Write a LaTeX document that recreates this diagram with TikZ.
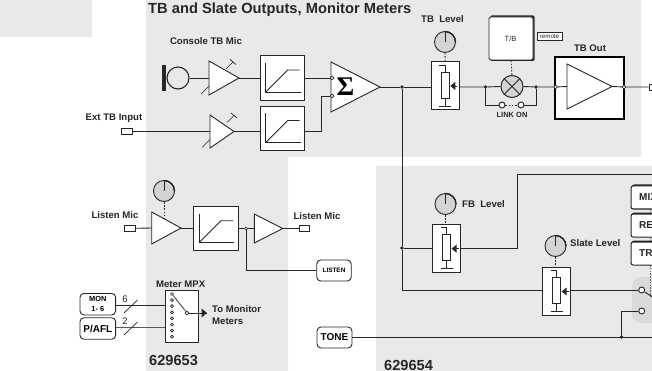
\documentclass[tikz,border=0pt]{standalone}
\usepackage{fontspec}
\setmainfont{Liberation Sans}
\newfontfamily\sigfont{Liberation Serif}
\usetikzlibrary{calc}
\definecolor{regiongrey}{HTML}{E9E9E9}
\definecolor{knobgrey}{HTML}{D4D4D4}
\definecolor{switchgrey}{HTML}{DADADA}
\definecolor{ink}{HTML}{262626}
\tikzset{
  wire/.style={draw=ink,line width=0.9pt},
  thin wire/.style={draw=ink,line width=0.7pt},
  region/.style={fill=regiongrey,draw=none},
  block/.style={draw=ink,line width=1pt,fill=white,inner sep=0pt,minimum width=44.5pt,minimum height=44.5pt},
  potbox/.style={draw=ink,line width=1pt,fill=white,inner sep=0pt,minimum width=27.5pt,minimum height=48pt},
  tag/.style={draw=ink,line width=0.9pt,fill=white,rounded corners=4pt,inner sep=0pt,font=\bfseries},
  jack/.style={draw=ink,line width=0.8pt,fill=white,inner sep=0pt,minimum width=10.5pt,minimum height=5.5pt},
  lbl/.style={font=\bfseries\fontsize{9.6}{11}\selectfont,text=ink,inner sep=0pt},
  bignum/.style={font=\bfseries\fontsize{14.6}{16}\selectfont,text=ink,inner sep=0pt},
  jdot/.style={circle,fill=ink,inner sep=0pt,minimum size=3.6pt},
  odot/.style={circle,draw=ink,line width=0.7pt,fill=white,inner sep=0pt,minimum size=3.6pt},
  bigodot/.style={circle,draw=ink,line width=0.9pt,fill=white,inner sep=0pt,minimum size=6pt},
  knob/.style={circle,draw=ink,line width=0.9pt,fill=knobgrey,inner sep=0pt,minimum size=21pt},
  dotlink/.style={draw=ink,line width=0.9pt,dash pattern=on 1.6pt off 1.6pt},
  softkey/.style={draw=ink,line width=1pt,fill=white,rounded corners=2pt},
}
% triangle amplifier: name, left x, top y, bottom y, apex x; defines name-in, name-out
\newcommand{\ampl}[5]{%
  \coordinate (#1-out) at (#5,{(#3+#4)/2});
  \coordinate (#1-in) at (#2,{(#3+#4)/2});
  \draw[wire,fill=white] (#2,#3) -- (#5,{(#3+#4)/2}) -- (#2,#4) -- cycle;
}
% limiter curve inside a block node
\newcommand{\limcurve}[1]{%
  \draw[wire] ($(#1.center)+(-17,-15)$) -- ($(#1.center)+(-17,14)$) -- ($(#1.center)+(18,14)$);
  \draw[wire] ($(#1.center)+(-17,14)$) -- ($(#1.center)+(5,-8)$) -- ($(#1.center)+(17,-8)$);
}
% gain trim ticks
\newcommand{\trim}[2]{%
  \draw[thin wire] (#1+17,#2-9) -- (#1+24,#2-16) ++(-3,-2.5) -- ++(6,5);
  \draw[thin wire] (#1-8,#2+16) -- (#1,#2+8);
}
% potentiometer glyph inside a potbox
\newcommand{\potglyph}[1]{%
  \draw[wire,fill=white] ($(#1.center)+(-4,-14)$) rectangle ($(#1.center)+(4,12)$);
  \draw[wire] ($(#1.center)+(0,-14)$) -- ($(#1.center)+(0,-21)$) -- ($(#1.center)+(-6,-21)$);
  \draw[wire] ($(#1.center)+(0,12)$) -- ($(#1.center)+(0,20)$);
  \draw[wire] ($(#1.center)+(-6,20)$) -- ($(#1.center)+(6,20)$);
  \draw[wire] ($(#1.center)+(12,0)$) -- ($(#1.center)+(6,0)$);
  \fill[ink] ($(#1.center)+(5,0)$) -- ($(#1.center)+(10,-4)$) -- ($(#1.center)+(10,4)$) -- cycle;
}
\newcommand{\knobline}[1]{%
  \draw[wire] (#1.center) -- (#1.north);
  \draw[ink,line width=1.4pt,line cap=round] ($(#1.center)+(0,-10.5)$) .. controls ($(#1.center)+(5.8,-10.5)$) and ($(#1.center)+(10.5,-5.8)$) .. ($(#1.center)+(10.5,0)$);
}
\begin{document}
\begin{tikzpicture}[x=1pt,y=-1pt]
\useasboundingbox (0,0) rectangle (652,371);
% background regions
\fill[region] (0,0) rectangle (92,37);
\fill[region] (146,0) -- (641,0) -- (641,157) -- (288,157) -- (288,371) -- (146,371) -- cycle;
\fill[region] (376,166) rectangle (652,371);
\fill[switchgrey,rounded corners=9pt] (632,277) rectangle (670,323);

% title labels
\node[lbl,font=\bfseries\fontsize{14.7}{16}\selectfont,anchor=west] (title) at (148,9.8) {TB and Slate Outputs, Monitor Meters};
\node[lbl] (lconsole) at (206,41) {Console TB Mic};
\node[lbl] (lext) at (114,118) {Ext TB Input};
\node[lbl] (ltblevel) at (442.5,19) {TB\ \ Level};
\node[lbl] (ltbout) at (590,48) {TB Out};
\node[lbl,font=\bfseries\fontsize{7.5}{8}\selectfont] (llink) at (512,114.5) {LINK ON};
\node[lbl] (llisten1) at (115,215) {Listen Mic};
\node[lbl] (llisten2) at (317,216) {Listen Mic};
\node[lbl] (lmpx) at (180.7,284.5) {Meter MPX};
\node[lbl,anchor=west] (lmon1) at (212,309) {To Monitor};
\node[lbl,anchor=west] (lmon2) at (212,321) {Meters};
\node[lbl,anchor=west] (lfb) at (462,204) {FB\ \ Level};
\node[lbl,anchor=west] (lslate) at (570,243.5) {Slate Level};
\node[bignum,anchor=west] (n53) at (149,360) {629653};
\node[bignum,anchor=west] (n54) at (384,365.3) {629654};

% console mic chain
\fill[ink] (162,65) rectangle (166,91);
\node[circle,draw=ink,line width=1.1pt,fill=none,inner sep=0pt,minimum size=22pt] (mic) at (178,78) {};
\ampl{a1}{209}{61}{95}{239}
\trim{209}{78}
\node[block] (lim1) at (282.7,78) {};
\limcurve{lim1}
\draw[wire] (mic.east) -- (a1-in);
\draw[wire] (a1-out) -- (lim1.west);

% ext TB chain
\node[jack] (jext) at (127,131.5) {};
\ampl{a2}{210}{115}{148}{234}
\trim{210}{131.5}
\node[block] (lim2) at (282.7,128.5) {};
\limcurve{lim2}
\draw[wire] (jext.east) -- (a2-in);
\draw[wire] (a2-out) -- (a2-out -| lim2.west);

% summing amp
\ampl{sum}{331}{62}{112}{380}
\node[font=\sigfont\bfseries\fontsize{27}{27}\selectfont,inner sep=0pt] (sigma) at (345.5,87) {Σ};
\node[odot] (s1) at (332,78) {};
\node[odot] (s2) at (332,96) {};
\draw[wire] (lim1.east |- s1) -- (s1);
\coordinate (b2) at (321,131.5);
\draw[wire] (lim2.east |- b2) -- (b2) -- (b2 |- s2) -- (s2);

% TB level pot
\node[potbox] (pottb) at (445.3,86) {};
\potglyph{pottb}
\node[knob] (ktb) at (445,42) {};
\knobline{ktb}
\draw[dotlink] (ktb.south) -- (pottb.north);
\node[jdot] (jmain) at (402,87) {};
\draw[wire] (sum-out) -- (jmain) -- (jmain -| pottb.west);

% lamp + link
\node[circle,draw=ink,line width=1pt,fill=knobgrey,inner sep=0pt,minimum size=22pt] (lamp) at (512,86.5) {};
\draw[wire] (lamp.north west) -- (lamp.south east);
\draw[wire] (lamp.north east) -- (lamp.south west);
\node[jdot] (j1) at (485.5,87) {};
\node[jdot] (j2) at (536,87) {};
\draw[wire] (pottb.east |- j1) -- (j1) -- (lamp.west);
\draw[wire] (lamp.east) -- (j2);
\node[bigodot] (ls1) at (502,105) {};
\node[bigodot] (ls2) at (521,105) {};
\draw[wire] (j1) -- (j1 |- ls1) -- (ls1);
\draw[wire] (ls2) -- (j2 |- ls2) -- (j2);
\draw[dotlink] (ls1) -- (ls2);

% T/B button
\fill[ink,rounded corners=1.5pt] (490,15.5) rectangle (534.5,61);
\node[draw=ink,line width=0.8pt,fill=white,rounded corners=1.5pt,inner sep=0pt,minimum width=44pt,minimum height=43pt] (tb) at (511,38.5) {};
\node[font=\fontsize{7.5}{8}\selectfont,text=ink,inner sep=0pt] (tbt) at (510.5,38.5) {T/B};
\draw[dotlink] (tb.south) -- (lamp.north);
\node[draw=ink,line width=0.8pt,fill=white,inner sep=0pt,minimum width=25pt,minimum height=7.5pt,font=\fontsize{6.2}{7}\selectfont,text=ink] (remote) at (549.5,36.5) {remote};

% TB out
\node[draw=black,line width=2pt,fill=white,inner sep=0pt,minimum width=68.5pt,minimum height=62pt] (tbout) at (589.5,88.5) {};
\ampl{a3}{567}{64}{109}{612}
\node[odot] (o1) at (555.5,87) {};
\node[odot] (o2) at (624,87) {};
\node[draw=ink,line width=0.9pt,fill=white,inner sep=0pt,minimum width=8pt,minimum height=6pt] (jout) at (653,87) {};
\draw[wire] (j2) -- (o1) -- (a3-in);
\draw[wire] (a3-out) -- (o2) -- (jout.west);

% listen chain
\node[knob] (klisten) at (164,191) {};
\knobline{klisten}
\node[jack] (jl1) at (129.7,228.3) {};
\ampl{a4}{151.7}{212}{244}{181}
\draw[dotlink] (klisten.south) -- (164,219);
\node[block] (lim3) at (216,228.7) {};
\limcurve{lim3}
\ampl{a5}{254.3}{214}{243}{282.7}
\node[odot,minimum size=3pt] (jl) at (246,228.5) {};
\node[jack] (jl2) at (304.2,228.5) {};
\draw[wire] (jl1.east) -- (a4-in);
\draw[wire] (a4-out) -- (a4-out -| lim3.west);
\draw[wire] (lim3.east |- jl) -- (jl) -- (a5-in);
\draw[wire] (a5-out) -- (jl2.west);
\node[tag,minimum width=34.5pt,minimum height=21pt,font=\bfseries\fontsize{6.4}{7}\selectfont] (listen) at (334,270.5) {LISTEN};
\draw[wire] (jl) -- (jl |- listen) -- (listen.west);

% meter mux
\node[draw=ink,line width=1pt,fill=white,inner sep=0pt,minimum width=33.7pt,minimum height=51.6pt] (mpx) at (181.9,316.5) {};
\foreach \i in {0,...,7}{\node[odot,minimum size=3pt] (m\i) at (172,{294+\i*6.1}) {};}
\node[odot] (marm) at (187,313) {};
\draw[thin wire] (m0) -- (marm);
\coordinate (mend) at (207,313);
\draw[wire] (marm) -- (mend);
\fill[ink] (mend) -- (201.5,308.5) -- (201.5,317.5) -- cycle;
\node[tag,minimum width=35.7pt,minimum height=21.5pt,align=center,font=\bfseries\fontsize{7.4}{10}\selectfont] (mon) at (97.8,304.2) {MON\\1- 6};
\node[tag,minimum width=35.7pt,minimum height=21.5pt,font=\bfseries\fontsize{10}{11}\selectfont] (pafl) at (97.8,328.5) {P/AFL};
\draw[wire] (mon.east |- 0,305.5) -- (mpx.west |- 0,305.5);
\draw[wire,draw=black!65] (pafl.east |- 0,327.5) -- (mpx.west |- 0,327.5);
\coordinate (s6a) at (124,313); \coordinate (s6b) at (137.5,300);
\coordinate (s2a) at (124,335); \coordinate (s2b) at (137.5,322);
\draw[thin wire] (s6a) -- (s6b);
\draw[thin wire] (s2a) -- (s2b);
\node[font=\fontsize{9.6}{10}\selectfont,text=ink,inner sep=0pt] (n6) at (125,299.5) {6};
\node[font=\fontsize{9.6}{10}\selectfont,text=ink,inner sep=0pt] (n2) at (125,321.5) {2};

% tone bus
\node[tag,minimum width=35pt,minimum height=21pt,font=\bfseries\fontsize{10}{11}\selectfont] (tone) at (334.5,337.5) {TONE};
\coordinate (busend) at (652,337);
\node[jdot] (jbus) at (621.5,337) {};
\draw[wire] (tone.east |- busend) -- (busend);

% FB pot
\node[potbox] (potfb) at (446.5,248.7) {};
\potglyph{potfb}
\node[knob] (kfb) at (445.5,204) {};
\knobline{kfb}
\draw[dotlink] (kfb.south) -- (potfb.north -| kfb);
\node[jdot] (jfb) at (402,248) {};
\coordinate (fbup) at (517,248);
\coordinate (fbtop) at (517,174);
\coordinate (fbend) at (652,174);
\draw[wire] (jmain) -- (jfb);
\draw[wire] (jfb) -- (potfb.west |- jfb);
\draw[wire] (potfb.east |- fbup) -- (fbup) -- (fbtop) -- (fbend);

% slate pot
\node[potbox] (potsl) at (556.6,291.5) {};
\potglyph{potsl}
\node[knob] (ksl) at (555.5,246) {};
\knobline{ksl}
\draw[dotlink] (ksl.south) -- (potsl.north -| ksl);
\coordinate (slcorner) at (402,290);
\node[bigodot] (sw1) at (641.7,290) {};
\node[bigodot] (sw2) at (641.7,311) {};
\draw[wire] (jfb) -- (slcorner) -- (potsl.west |- slcorner);
\draw[wire] (potsl.east |- sw1) -- (sw1);
\draw[wire] (sw2) -- (jbus |- sw2) -- (jbus);
\coordinate (armend) at (654,298);
\draw[wire] (sw1) -- (armend);

% soft keys at the right edge
\foreach \nm/\ya/\yb/\tx in {kmix/186/209/MIX,kret/214/237/RE,ktr/242/265/TR}{
  \fill[ink,rounded corners=2pt] (632,\ya-1.5) rectangle (670,\yb-4);
  \draw[softkey] (631,\ya) rectangle (670,\yb);
  \node[lbl,anchor=west,font=\bfseries\fontsize{10}{11}\selectfont] (\nm) at (639,{(\ya+\yb)/2}) {\tx};
}
\draw[draw=black!60,line width=1.4pt,dash pattern=on 1.6pt off 1.2pt] (650.7,209) -- (650.7,214);
\draw[draw=black!60,line width=1.4pt,dash pattern=on 1.6pt off 1.2pt] (650.7,237) -- (650.7,242);
\draw[draw=black!60,line width=1.4pt,dash pattern=on 1.6pt off 1.2pt] (650.7,265) -- (650.7,296);
\end{tikzpicture}
\end{document}
